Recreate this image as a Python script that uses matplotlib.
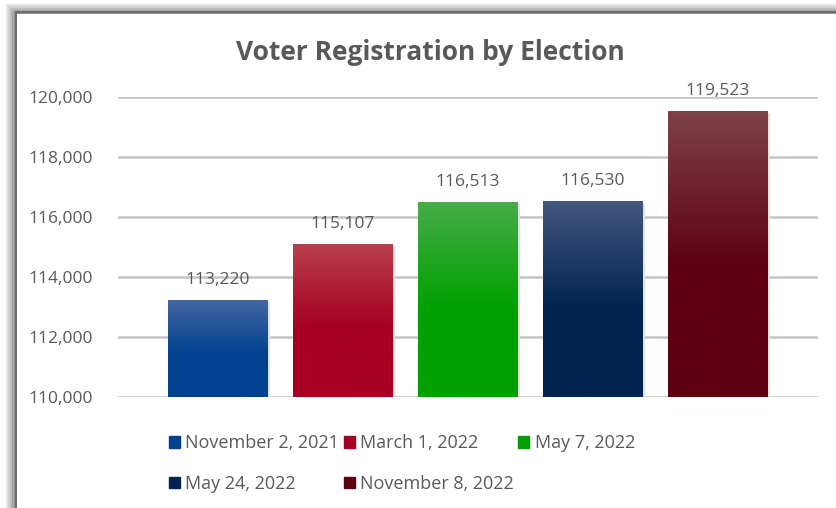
"""Voter registration by election bar chart
"""
import numpy as np
import matplotlib.pyplot as plt
from matplotlib.colors import LinearSegmentedColormap
from matplotlib.patches import Rectangle

elections = ["November 2, 2021", "March 1, 2022", "May 7, 2022",
             "May 24, 2022", "November 8, 2022"]
registered = [113220, 115107, 116513, 116530, 119523]
# (top, bottom) of each bar's gradient
bar_colors = [("#4466a0", "#004290"),
              ("#b8404c", "#a50021"),
              ("#48ac48", "#00a000"),
              ("#445680", "#00234f"),
              ("#7e4249", "#5e0010")]
yticks = [110000, 112000, 114000, 116000, 118000, 120000]

TEXT_COLOR = "#595959"
FONT = "Open Sans"

W, H = 837, 508
fig = plt.figure(figsize=(W / 100, H / 100), dpi=100)
fig.patch.set_facecolor("white")

# Outer frame with a soft shadow on the left and top.
for i, c in enumerate(["#e6e6e6", "#d2d2d2", "#bdbdbd", "#a6a6a6", "#909090"]):
    fig.add_artist(Rectangle(((6 + 2 * i) / W, 0), 2 / W, (H - 4 - 2 * i) / H,
                             transform=fig.transFigure, color=c, lw=0))
    fig.add_artist(Rectangle(((6 + 2 * i) / W, (H - 6 - 2 * i) / H),
                             (W - 6) / W, 2 / H,
                             transform=fig.transFigure, color=c, lw=0))
fig.add_artist(Rectangle((15 / W, 0), 2 / W, (H - 12) / H,
                         transform=fig.transFigure, color="#6e6e6e", lw=0))
fig.add_artist(Rectangle((15 / W, (H - 13) / H), (W - 15) / W, 2 / H,
                         transform=fig.transFigure, color="#6e6e6e", lw=0))

ax = fig.add_axes([118 / W, 1 - 397 / H, 700 / W, 300 / H])
ax.set_facecolor("none")

x = np.arange(len(registered))
bars = ax.bar(x, registered, width=0.8, color="none", zorder=3)

for bar, (top, bottom) in zip(bars, bar_colors):
    cmap = LinearSegmentedColormap.from_list(
        "g", [(0, bottom), (0.45, bottom), (1, top)])
    x0, y0 = bar.get_x(), 110000
    x1, y1 = x0 + bar.get_width(), bar.get_height()
    grad = np.linspace(0, 1, 256).reshape(-1, 1)
    im = ax.imshow(grad, cmap=cmap, origin="lower", aspect="auto",
                   extent=[x0, x1, y0, y1], zorder=3)
    im.set_clip_path(bar)
    # faint shadow on the right
    ax.add_patch(Rectangle((x1, y0), 0.015, y1 - y0 - 60, color="#e2e2e2",
                           lw=0, zorder=2))
    ax.text(bar.get_x() + bar.get_width() / 2, y1 + 400, f"{y1:,}",
            ha="center", va="bottom", fontsize=12.5, color=TEXT_COLOR,
            family=FONT, zorder=4)

ax.set_xlim(-0.8, 4.8)
ax.set_ylim(110000, 120000)
ax.set_yticks(yticks)
ax.set_yticklabels([f"{v:,}" for v in yticks], fontsize=12.5,
                   color=TEXT_COLOR, family=FONT)
ax.set_xticks([])
ax.tick_params(axis="y", length=0, pad=18)
ax.grid(axis="y", color="#c4c4c4", linewidth=1.8, zorder=0)
ax.set_axisbelow(True)
for spine in ax.spines.values():
    spine.set_visible(False)

fig.text(430 / W, 1 - 52 / H, "Voter Registration by Election",
         ha="center", va="center", fontsize=19, fontweight="bold",
         color=TEXT_COLOR, family=FONT)

# Legend, drawn row by row like the original.
order = [0, 3, 1, 4, 2]
handles = [Rectangle((0, 0), 1, 1, color=bar_colors[i][1]) for i in order]
labels = [elections[i] for i in order]
leg = fig.legend(handles, labels, ncol=3, loc="upper left",
                 bbox_to_anchor=(153 / W, 1 - 418 / H), frameon=False,
                 prop=dict(family=FONT, size=13), labelcolor=TEXT_COLOR,
                 handlelength=0.6, handleheight=0.6, handletextpad=0.3,
                 columnspacing=0.25, labelspacing=1.25)

fig.savefig("out.png", dpi=100)
plt.close()
